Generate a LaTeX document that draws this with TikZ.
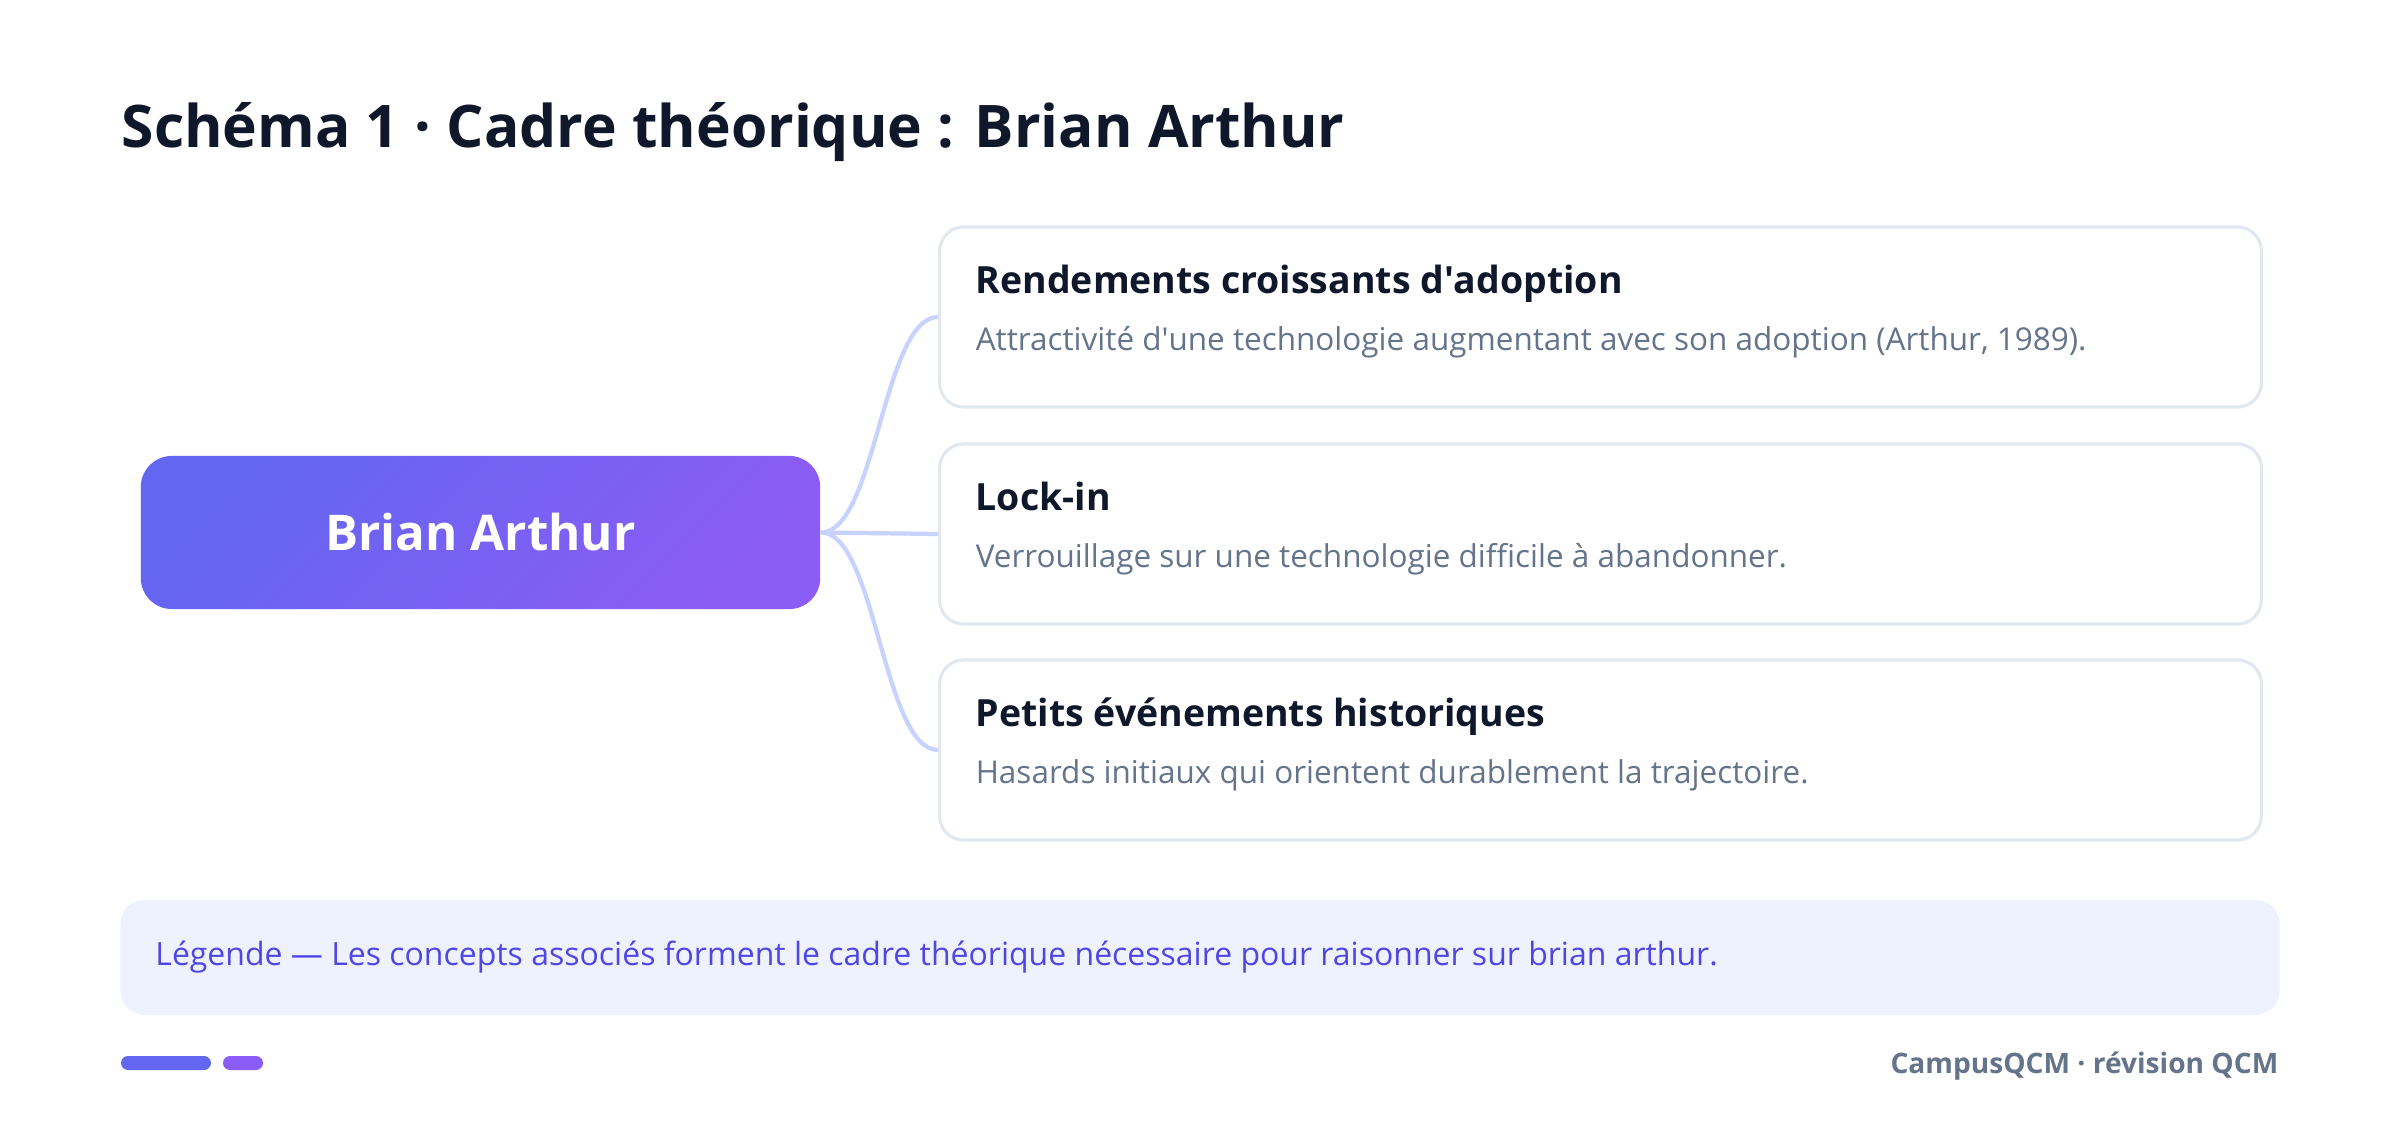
\documentclass[tikz,border=0pt]{standalone}
\usepackage{fontspec}
\setmainfont{Open Sans}
\tikzset{>=latex}
\definecolor{inkdark}{RGB}{15,23,42}
\definecolor{inkmuted}{RGB}{100,116,139}
\definecolor{cardline}{RGB}{226,232,240}
\definecolor{linkline}{RGB}{199,210,254}
\definecolor{hubleft}{RGB}{99,102,241}
\definecolor{hubright}{RGB}{139,92,246}
\definecolor{legendfill}{RGB}{238,242,255}
\definecolor{legendink}{RGB}{79,70,229}

\begin{document}
\begin{tikzpicture}[x=0.01cm,y=-0.01cm,
  hub/.style={rounded corners=0.31cm, left color=hubleft, right color=hubright,
    shading angle=45, minimum width=6.79cm, minimum height=1.53cm, inner sep=0,
    text=white, font=\fontsize{14}{17}\selectfont\bfseries},
  card/.style={draw=cardline, line width=0.9pt, rounded corners=0.24cm, fill=white,
    minimum width=13.21cm, minimum height=1.80cm, inner sep=0},
  head/.style={anchor=base west, inner sep=0, text=inkdark,
    font=\fontsize{10.65}{13}\selectfont\bfseries},
  desc/.style={anchor=base west, inner sep=0, text=inkmuted,
    font=\fontsize{8.95}{11}\selectfont},
  link/.style={draw=linkline, line width=1.2pt}]

  \useasboundingbox[fill=white] (0,0) rectangle (2400,1125);

  % title
  \node[anchor=base west, inner sep=0, text=inkdark,
    font=\fontsize{16.7}{22}\selectfont\bfseries] (title) at (121,148)
    {Schéma 1 · Cadre théorique : Brian Arthur};

  % boxes
  \node[hub] (hub) at (480.5,532.5) {Brian Arthur};
  \node[card] (c1) at (1600.5,317) {};
  \node[card] (c2) at (1600.5,534) {};
  \node[card] (c3) at (1600.5,750) {};

  % links
  \draw[link] (hub.east) .. controls +(55,0) and +(-55,0) .. (c1.west);
  \draw[link] (hub.east) -- (c2.west);
  \draw[link] (hub.east) .. controls +(55,0) and +(-55,0) .. (c3.west);

  % labels
  \node[head] (h1) at ([xshift=0.37cm,yshift=0.23cm]c1.west)
    {Rendements croissants d\textquotesingle adoption};
  \node[desc] (d1) at ([xshift=0.37cm,yshift=-0.33cm]c1.west)
    {Attractivité d\textquotesingle une technologie augmentant avec son adoption (Arthur, 1989).};
  \node[head] (h2) at ([xshift=0.37cm,yshift=0.23cm]c2.west) {Lock-in};
  \node[desc] (d2) at ([xshift=0.37cm,yshift=-0.33cm]c2.west)
    {Verrouillage sur une technologie difficile à abandonner.};
  \node[head] (h3) at ([xshift=0.37cm,yshift=0.23cm]c3.west) {Petits événements historiques};
  \node[desc] (d3) at ([xshift=0.37cm,yshift=-0.33cm]c3.west)
    {Hasards initiaux qui orientent durablement la trajectoire.};

  % legend
  \node[fill=legendfill, rounded corners=0.24cm, minimum width=21.58cm,
    minimum height=1.15cm, inner sep=0] (legend) at (1200,957.5) {};
  \node[anchor=west, inner sep=0, text=legendink, font=\fontsize{9.1}{11}\selectfont]
    (legendtext) at ([xshift=0.35cm]legend.west)
    {Légende — Les concepts associés forment le cadre théorique nécessaire pour raisonner sur brian arthur.};

  % footer
  \fill[hubleft, rounded corners=0.07cm] (121,1056) rectangle (211,1070);
  \fill[hubright, rounded corners=0.07cm] (223,1056) rectangle (263,1070);
  \node[anchor=base east, inner sep=0, text=inkmuted,
    font=\fontsize{8}{10}\selectfont\bfseries] (foot) at (2279,1073)
    {CampusQCM · révision QCM};

\end{tikzpicture}
\end{document}
